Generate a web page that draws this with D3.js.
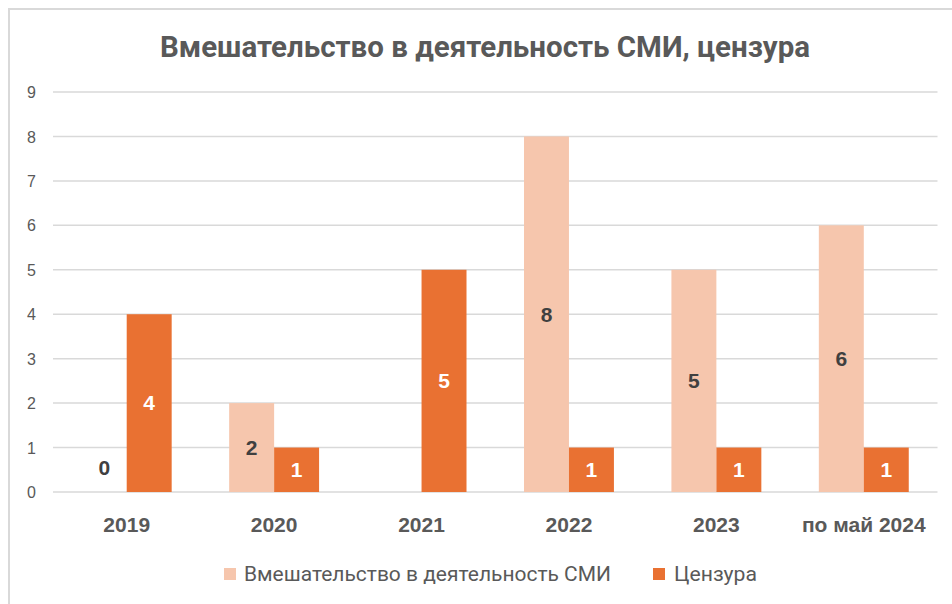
<!DOCTYPE html>
<html><head><meta charset="utf-8">
<script src="https://cdn.jsdelivr.net/npm/d3@7"></script>
<style>body{margin:0;background:#fff}svg{display:block}</style>
</head><body>
<svg id="c" width="952" height="604"></svg>
<script>
const categories = ["2019","2020","2021","2022","2023","по май 2024"];
const seriesNames = ["Вмешательство в деятельность СМИ","Цензура"];
const mediaValues = [0, 2, null, 8, 5, 6];
const censorValues = [4, 1, 5, 1, 1, 1];
const yTicks = [0,1,2,3,4,5,6,7,8,9];
const colors = ["#F6C6AD","#E97132"];
const labelColors = ["#404040","#FFFFFF"];

const svg = d3.select("#c");
svg.append("rect").attr("x",9).attr("y",9).attr("width",1000).attr("height",700)
  .attr("fill","#fff").attr("stroke","#D9D9D9").attr("stroke-width",2);

const pL = 53, pR = 937.5, pT = 92, pB = 492;
const x = d3.scaleBand().domain(categories).range([pL,pR]).padding(0);
const y = d3.scaleLinear().domain([0,9]).range([pB,pT]);
const barW = x.bandwidth()*0.305;

// gridlines
svg.append("g").selectAll("line").data(yTicks).join("line")
  .attr("x1",pL).attr("x2",pR).attr("y1",d=>y(d)).attr("y2",d=>y(d))
  .attr("stroke","#D9D9D9").attr("stroke-width",1.5);

// y axis labels
const yAxis = d3.axisLeft(y).tickValues(yTicks).tickSize(0).tickPadding(0);
const ya = svg.append("g").attr("transform","translate(36,0)").call(yAxis);
ya.select(".domain").remove();
ya.selectAll("text").attr("font-family","Liberation Sans, Arial, sans-serif")
  .attr("font-size",16).attr("fill","#595959").attr("dy","0.35em");

// x axis labels
const xAxis = d3.axisBottom(x).tickSize(0).tickPadding(0);
const xa = svg.append("g").attr("transform",`translate(0,${pB+33})`).call(xAxis);
xa.select(".domain").remove();
xa.selectAll("text").attr("font-family","Liberation Sans, Arial, sans-serif")
  .attr("font-size",21).attr("font-weight","bold").attr("fill","#595959").attr("dy","0.35em");

const series = [mediaValues, censorValues];
series.forEach((vals, si) => {
  const data = categories.map((c,i)=>({c, v: vals[i]}));
  const offs = si===0 ? -barW : 0;
  svg.append("g").selectAll("rect").data(data.filter(d=>d.v!=null && d.v>0)).join("rect")
    .attr("x",d=>x(d.c)+x.bandwidth()/2+offs).attr("width",barW)
    .attr("y",d=>y(d.v)).attr("height",d=>y(0)-y(d.v))
    .attr("fill",colors[si]);
  svg.append("g").selectAll("text").data(data.filter(d=>d.v!=null)).join("text")
    .attr("x",d=>x(d.c)+x.bandwidth()/2+offs+barW/2)
    .attr("y",d=> d.v>0 ? (y(d.v)+y(0))/2 : y(0.55))
    .attr("dy","0.35em").attr("text-anchor","middle")
    .attr("font-family","Liberation Sans, Arial, sans-serif").attr("font-size",21).attr("font-weight","bold")
    .attr("fill", d=> d.v>0 ? labelColors[si] : "#404040")
    .text(d=>d.v);
});

// title
svg.append("text").attr("x",485).attr("y",47).attr("dy","0.35em").attr("text-anchor","middle")
  .attr("font-family","Roboto, Noto Sans, sans-serif").attr("font-size",29).attr("font-weight","bold")
  .attr("fill","#595959").attr("textLength",650).attr("lengthAdjust","spacingAndGlyphs")
  .text("Вмешательство в деятельность СМИ, цензура");

// legend
const legend = [
  {name: seriesNames[0], color: colors[0], sx: 224, tx: 244, tw: 367},
  {name: seriesNames[1], color: colors[1], sx: 653, tx: 674, tw: 83}
];
const lg = svg.append("g");
legend.forEach(l=>{
  lg.append("rect").attr("x",l.sx).attr("y",568).attr("width",12).attr("height",12).attr("fill",l.color);
  lg.append("text").attr("x",l.tx).attr("y",574).attr("dy","0.35em")
    .attr("font-family","Roboto, Noto Sans, sans-serif").attr("font-size",20)
    .attr("fill","#595959").attr("textLength",l.tw).attr("lengthAdjust","spacingAndGlyphs")
    .text(l.name);
});
</script>
</body></html>
